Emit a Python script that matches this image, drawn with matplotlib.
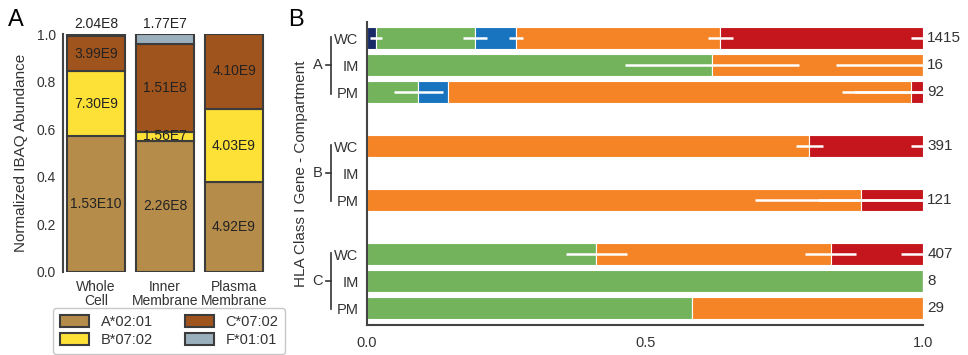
import matplotlib
matplotlib.use("Agg")
import matplotlib.pyplot as plt
import numpy as np

plt.rcParams['font.family'] = ['Liberation Sans', 'DejaVu Sans']

# ---------------- Panel A data ----------------
compartments = ["Whole\nCell", "Inner\nMembrane", "Plasma\nMembrane"]
alleles = ["A*02:01", "B*07:02", "C*07:02", "F*01:01"]
ibaq_A0201 = [1.53e10, 2.26e8, 4.92e9]
ibaq_B0702 = [7.30e9, 1.56e7, 4.03e9]
ibaq_C0702 = [3.99e9, 1.51e8, 4.10e9]
ibaq_F0101 = [2.04e8, 1.77e7, 0.0]
allele_colors = ["#b58c4a", "#fde137", "#a0541d", "#9bb0bd"]

# ---------------- Panel B data ----------------
genes = ["A", "B", "C"]
row_labels = ["WC", "IM", "PM"]
# fraction per category (navy, green, blue, orange, red) for rows
# A-WC, A-IM, A-PM, B-WC, B-IM, B-PM, C-WC, C-IM, C-PM
frac_navy = [0.016, 0, 0, 0, 0, 0, 0, 0, 0]
frac_green = [0.178, 0.62, 0.092, 0, 0, 0, 0.412, 1.0, 0.585]
frac_blue = [0.074, 0, 0.054, 0, 0, 0, 0, 0, 0]
frac_orange = [0.367, 0.38, 0.831, 0.795, 0, 0.887, 0.421, 0, 0.415]
frac_red = [0.365, 0, 0.023, 0.205, 0, 0.113, 0.167, 0, 0]
err_navy = [0.011, 0, 0, 0, 0, 0, 0, 0, 0]
err_green = [0.022, 0.157, 0.044, 0, 0, 0, 0.055, 0, 0]
err_blue = [0.012, 0, 0, 0, 0, 0, 0, 0, 0]
err_orange = [0.023, 0.157, 0.124, 0.024, 0, 0.19, 0.045, 0, 0]
err_red = [0.023, 0, 0.124, 0.023, 0, 0.19, 0.04, 0, 0]
counts = ["1415", "16", "92", "391", "", "121", "407", "8", "29"]
cat_colors = ["#172a66", "#72b35c", "#1874bf", "#f58426", "#c4161c"]

fig = plt.figure(figsize=(9.68, 3.55), dpi=100)

# ================= Panel A =================
axA = fig.add_axes([0.065, 0.234, 0.211, 0.670])
series = [ibaq_A0201, ibaq_B0702, ibaq_C0702, ibaq_F0101]
totals = np.sum(np.array(series), axis=0)
x = np.arange(len(compartments))
bottom = np.zeros(len(compartments))
for k, (vals, col, name) in enumerate(zip(series, allele_colors, alleles)):
    frac = np.array(vals) / totals
    axA.bar(x, frac, width=0.84, bottom=bottom, color=col, edgecolor="#3c3c3c",
            linewidth=1.5, label=name)
    for i in range(len(x)):
        if vals[i] <= 0:
            continue
        e = int(np.floor(np.log10(vals[i])))
        txt = "%.2fE%d" % (vals[i] / 10 ** e, e)
        if k == len(series) - 1:
            axA.text(x[i], 1.012, txt, ha="center", va="bottom", fontsize=10,
                     color="#222222")
        else:
            axA.text(x[i], bottom[i] + frac[i] / 2, txt, ha="center", va="center",
                     fontsize=10, color="#222222")
    bottom += frac
axA.set_xlim(-0.48, 2.48)
axA.set_ylim(0, 1.0)
axA.set_yticks([0, 0.2, 0.4, 0.6, 0.8, 1.0])
axA.set_yticklabels(["0.0", "0.2", "0.4", "0.6", "0.8", "1.0"])
axA.set_xticks(x)
axA.set_xticklabels(compartments, fontsize=10, linespacing=0.95)
axA.tick_params(axis="both", length=0, labelsize=10, colors="#333333")
axA.tick_params(axis="y", pad=5)
axA.tick_params(axis="x", pad=6)
for s in ["top", "right", "bottom"]:
    axA.spines[s].set_visible(False)
axA.spines["left"].set_color("#444444")
axA.spines["left"].set_linewidth(1.5)
axA.set_ylabel("Normalized IBAQ Abundance", fontsize=11, color="#333333", labelpad=6)
leg = axA.legend(loc="upper center", bbox_to_anchor=(0.52, -0.152), ncol=2,
                 fontsize=10.5, frameon=True, handlelength=2.0, handleheight=0.9,
                 handletextpad=0.8, columnspacing=2.2, borderpad=0.45,
                 labelspacing=0.3, borderaxespad=0)
leg.get_frame().set_edgecolor("#bbbbbb")
for t in leg.get_texts():
    t.set_color("#333333")
fig.text(0.008, 0.975, "A", fontsize=17, va="top", ha="left")

# ================= Panel B =================
axB = fig.add_axes([0.379, 0.085, 0.575, 0.853])
ypos = [0, 1, 2, 4, 5, 6, 8, 9, 10]
fr = [frac_navy, frac_green, frac_blue, frac_orange, frac_red]
er = [err_navy, err_green, err_blue, err_orange, err_red]
left = np.zeros(len(ypos))
ends = []
for k, (vals, col) in enumerate(zip(fr, cat_colors)):
    v = np.array(vals, dtype=float)
    axB.barh(ypos, v, left=left, height=0.82, color=col, edgecolor="white",
             linewidth=0.8)
    left = left + v
    ends.append(left.copy())
for k in range(len(fr)):
    for i, y in enumerate(ypos):
        if fr[k][i] > 0 and er[k][i] > 0:
            axB.errorbar(ends[k][i], y, xerr=er[k][i], fmt="none", ecolor="white",
                         elinewidth=1.8, capsize=0, zorder=5)
for i, y in enumerate(ypos):
    if counts[i]:
        axB.text(1.007, y, counts[i], ha="left", va="center", fontsize=11,
                 color="#333333", transform=axB.get_yaxis_transform())
axB.set_xlim(0, 1.0)
axB.set_ylim(10.62, -0.6)
axB.set_xticks([0, 0.5, 1.0])
axB.set_xticklabels(["0.0", "0.5", "1.0"])
axB.set_yticks(ypos)
axB.set_yticklabels(row_labels * 3)
axB.tick_params(axis="both", length=0, labelsize=10.5, colors="#333333")
axB.tick_params(axis="y", pad=6)
axB.tick_params(axis="x", pad=8)
for s in ["top", "right"]:
    axB.spines[s].set_visible(False)
for s in ["left", "bottom"]:
    axB.spines[s].set_color("#444444")
    axB.spines[s].set_linewidth(1.5)

# group brackets
trans = axB.get_yaxis_transform()
xb = -0.064
for g, gname in enumerate(genes):
    y0 = ypos[3 * g] - 0.05
    y1 = ypos[3 * g + 2] + 0.05
    yc = ypos[3 * g + 1]
    axB.plot([xb, xb], [y0, y1], color="#333333", lw=1.2, transform=trans,
             clip_on=False)
    axB.plot([xb - 0.01, xb], [yc, yc], color="#333333", lw=1.2, transform=trans,
             clip_on=False)
    axB.text(xb - 0.016, yc, gname, ha="right", va="center", fontsize=10.5,
             color="#333333", transform=trans)
axB.text(-0.118, 0.5, "HLA Class I Gene - Compartment", rotation=90, ha="center",
         va="center", fontsize=11, color="#333333", transform=axB.transAxes)
fig.text(0.298, 0.975, "B", fontsize=17, va="top", ha="left")

fig.savefig("out.png", dpi=100)
